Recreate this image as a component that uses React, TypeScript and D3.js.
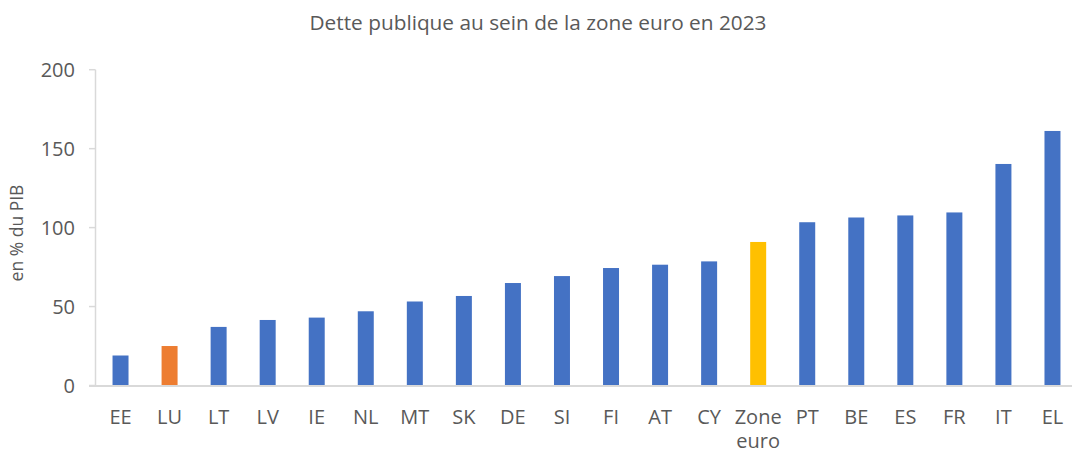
import React from "react";
import * as d3 from "d3";

const categories: string[] = ["EE", "LU", "LT", "LV", "IE", "NL", "MT", "SK", "DE", "SI", "FI", "AT", "CY", "Zone euro", "PT", "BE", "ES", "FR", "IT", "EL"];
const debtValues: number[] = [19.0, 25.0, 37.1, 41.5, 43.0, 47.0, 53.2, 56.7, 64.9, 69.3, 74.4, 76.5, 78.6, 90.9, 103.4, 106.4, 107.7, 109.6, 140.3, 161.2];
const barColors: string[] = ["#4472C4", "#ED7D31", "#4472C4", "#4472C4", "#4472C4", "#4472C4", "#4472C4", "#4472C4", "#4472C4", "#4472C4", "#4472C4", "#4472C4", "#4472C4", "#FFC000", "#4472C4", "#4472C4", "#4472C4", "#4472C4", "#4472C4", "#4472C4"];
const yTicks: number[] = [0, 50, 100, 150, 200];
const title = "Dette publique au sein de la zone euro en 2023";
const yLabel = "en % du PIB";

const W = 1072;
const H = 455;
const FONT = "'Open Sans', 'Noto Sans', sans-serif";
const TEXT = "#595959";
const AXIS = "#D9D9D9";

export default function App() {
  const x = d3.scaleBand<string>().domain(categories).range([96, 1077]).paddingInner(0.674).paddingOuter(0.337);
  const y = d3.scaleLinear().domain([0, 200]).range([385.5, 69.7]);
  const axisX = 95.5;

  return (
    <svg width={W} height={H} style={{ position: "absolute", left: 0, top: 0, background: "#fff" }} fontFamily={FONT}>
      <rect x={0} y={0} width={W} height={H} fill="#fff" />
      <text x={538} y={30} textAnchor="middle" fontSize={20.8} fill={TEXT}>{title}</text>
      <text transform={`translate(23,${233}) rotate(-90)`} textAnchor="middle" fontSize={17.5} fill={TEXT}>{yLabel}</text>
      {/* y axis */}
      <line x1={axisX} x2={axisX} y1={y(200)} y2={y(0)} stroke={AXIS} strokeWidth={1.5} />
      {yTicks.map((t) => (
        <g key={t}>
          <line x1={89} x2={axisX} y1={y(t)} y2={y(t)} stroke={AXIS} strokeWidth={1.5} />
          <text x={75} y={y(t)} dy="0.35em" textAnchor="end" fontSize={20} fill={TEXT}>{t}</text>
        </g>
      ))}
      {/* bars */}
      {categories.map((c, i) => (
        <rect key={c} x={x(c)} y={y(debtValues[i])} width={x.bandwidth()} height={y(0) - y(debtValues[i])} fill={barColors[i]} />
      ))}
      {/* x axis */}
      <line x1={89} x2={W} y1={386} y2={386} stroke={AXIS} strokeWidth={1.8} />
      {categories.map((c) => {
        const cx = (x(c) as number) + x.bandwidth() / 2;
        const parts = c === "Zone euro" ? ["Zone", "euro"] : [c];
        return (
          <text key={c} x={cx} y={423.5} textAnchor="middle" fontSize={20} fill={TEXT}>
            {parts.map((p, j) => (
              <tspan key={j} x={cx} dy={j === 0 ? 0 : 24.5}>{p}</tspan>
            ))}
          </text>
        );
      })}
    </svg>
  );
}
